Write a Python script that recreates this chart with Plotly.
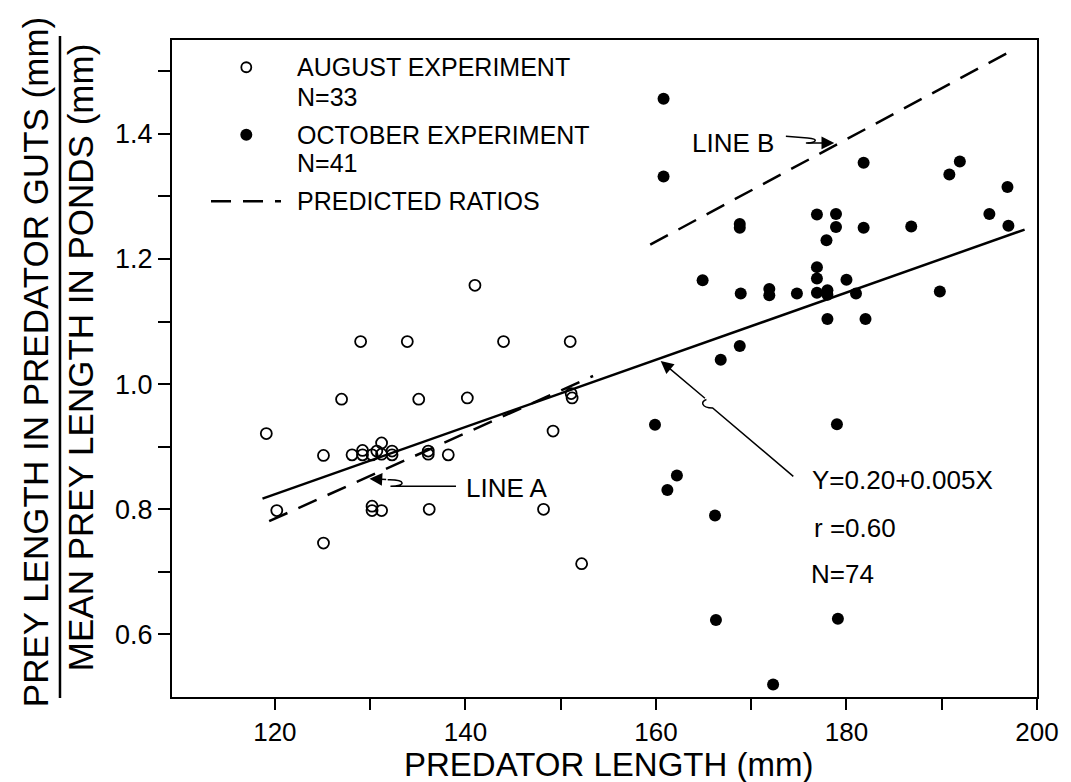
import plotly.graph_objects as go

# ---------------- data ----------------
aug_x = [141.0, 129.0, 133.9, 144.0, 151.0,
         127.0, 135.1, 140.2, 151.1, 151.2,
         119.1, 149.2, 125.1, 128.1, 129.2,
         129.2, 130.2, 131.2, 131.2, 132.3,
         132.3, 136.1, 136.1, 138.2, 120.2,
         130.2, 130.2, 131.2, 136.2, 148.2,
         125.1, 152.2, 130.7]
aug_y = [1.158, 1.068, 1.068, 1.068, 1.068,
         0.976, 0.976, 0.978, 0.985, 0.978,
         0.921, 0.925, 0.886, 0.887, 0.894,
         0.887, 0.887, 0.906, 0.888, 0.893,
         0.887, 0.888, 0.893, 0.887, 0.798,
         0.805, 0.798, 0.798, 0.800, 0.800,
         0.746, 0.713, 0.893]

oct_x = [160.8, 160.8, 181.8, 191.9, 190.8, 196.9, 168.8, 168.8, 176.9, 178.9,
         178.9, 181.8, 186.8, 195.0, 197.0, 177.9, 176.9, 176.9, 180.0, 164.9,
         168.9, 171.9, 171.9, 174.8, 176.9, 178.0, 178.0, 181.0, 189.8, 178.0,
         182.0, 168.8, 166.8, 159.9, 179.0, 162.2, 161.2, 166.2, 166.3, 179.1,
         172.3]
oct_y = [1.456, 1.332, 1.354, 1.356, 1.335, 1.315, 1.250, 1.256, 1.271, 1.272,
         1.251, 1.250, 1.252, 1.272, 1.253, 1.230, 1.187, 1.169, 1.167, 1.166,
         1.145, 1.142, 1.152, 1.145, 1.146, 1.150, 1.143, 1.145, 1.148, 1.104,
         1.104, 1.061, 1.039, 0.935, 0.936, 0.854, 0.831, 0.790, 0.623, 0.625,
         0.520]

reg_x = [118.7, 198.7]
reg_y = [0.817, 1.247]
lineA_x = [119.4, 153.4]
lineA_y = [0.781, 1.013]
lineB_x = [159.4, 197.1]
lineB_y = [1.223, 1.531]

x_tickvals = [120, 130, 140, 150, 160, 170, 180, 190, 200]
x_ticktext = ["120", "", "140", "", "160", "", "180", "", "200"]
y_tickvals = [0.6, 0.7, 0.8, 0.9, 1.0, 1.1, 1.2, 1.3, 1.4, 1.5]
y_ticktext = ["0.6", "", "0.8", "", "1.0", "", "1.2", "", "1.4", ""]

legend_labels = ["AUGUST EXPERIMENT", "N=33", "OCTOBER EXPERIMENT", "N=41", "PREDICTED RATIOS"]

FONT = "Liberation Sans"
INK = "black"
DASH = "20px,12px"

fig = go.Figure()

fig.add_trace(go.Scatter(
    x=aug_x, y=aug_y, mode="markers", name="AUGUST EXPERIMENT N=33",
    marker=dict(symbol="circle-open", size=11, color=INK, line=dict(width=1.8, color=INK)),
))
fig.add_trace(go.Scatter(
    x=oct_x, y=oct_y, mode="markers", name="OCTOBER EXPERIMENT N=41",
    marker=dict(symbol="circle", size=12, color=INK),
))
fig.add_trace(go.Scatter(
    x=lineA_x, y=lineA_y, mode="lines", name="PREDICTED RATIOS (LINE A)",
    line=dict(color=INK, width=2.5, dash=DASH),
))
fig.add_trace(go.Scatter(
    x=lineB_x, y=lineB_y, mode="lines", name="PREDICTED RATIOS (LINE B)",
    line=dict(color=INK, width=2.5, dash=DASH),
))
fig.add_trace(go.Scatter(
    x=reg_x, y=reg_y, mode="lines", name="Y=0.20+0.005X",
    line=dict(color=INK, width=2.5),
))

ann_font = dict(family=FONT, size=26, color=INK)
leg_font = dict(family=FONT, size=25, color=INK)
arrow = dict(showarrow=True, arrowhead=2, arrowsize=1.7, arrowwidth=1.5, arrowcolor=INK,
             xref="x", yref="y", axref="x", ayref="y", text="")

annotations = [
    # LINE A pointer (hooked leader drawn as a path shape below, arrow tip here)
    dict(x=129.93, y=0.8489, ax=131.84, ay=0.8473, **arrow),
    dict(x=139.8, y=0.834, xref="x", yref="y", text="LINE A", showarrow=False,
         xanchor="left", yanchor="middle", font=ann_font),
    # LINE B pointer
    dict(x=178.72, y=1.3854, ax=175.74, ay=1.3854, **arrow),
    dict(x=172.6, y=1.385, xref="x", yref="y", text="LINE B", showarrow=False,
         xanchor="right", yanchor="middle", font=ann_font),
    # regression pointer
    dict(x=160.5, y=1.037, ax=165.3, ay=0.9755, **arrow),
    dict(x=176.2, y=0.847, xref="x", yref="y", text="Y=0.20+0.005X", showarrow=False,
         xanchor="left", yanchor="middle", font=ann_font),
    dict(x=176.4, y=0.770, xref="x", yref="y", text="r =0.60", showarrow=False,
         xanchor="left", yanchor="middle", font=ann_font),
    dict(x=176.1, y=0.696, xref="x", yref="y", text="N=74", showarrow=False,
         xanchor="left", yanchor="middle", font=ann_font),
    # y-axis title as a fraction
    dict(x=-0.157, y=0.51, xref="paper", yref="paper", text="PREY LENGTH IN PREDATOR GUTS (mm)",
         textangle=-90, showarrow=False, xanchor="center", yanchor="middle",
         font=dict(family=FONT, size=35, color=INK)),
    dict(x=-0.105, y=0.516, xref="paper", yref="paper", text="MEAN PREY LENGTH IN PONDS (mm)",
         textangle=-90, showarrow=False, xanchor="center", yanchor="middle",
         font=dict(family=FONT, size=35, color=INK)),
    # x-axis title
    dict(x=0.505, y=-0.1035, xref="paper", yref="paper", text="PREDATOR LENGTH (mm)",
         showarrow=False, xanchor="center", yanchor="middle",
         font=dict(family=FONT, size=33, color=INK)),
]

# hand-made legend (texts)
leg_text_x = 0.1418
leg_text_y = [0.9585, 0.9135, 0.8559, 0.8125, 0.7545]
for lbl, ly in zip(legend_labels, leg_text_y):
    annotations.append(dict(x=leg_text_x, y=ly, xref="paper", yref="paper", text=lbl,
                            showarrow=False, xanchor="left", yanchor="middle", font=leg_font))

leader = dict(type="path", xref="x", yref="y", line=dict(color=INK, width=1.5))
shapes = [
    # fraction bar of the y title
    dict(type="line", xref="paper", yref="paper",
         x0=-0.1295, x1=-0.1295, y0=-0.0015, y1=1.006,
         line=dict(color=INK, width=2.5)),
    # hooked leader lines of the pointers
    dict(path="M 139.01,0.8367 L 132.13,0.8367 C 133.8,0.8367 133.8,0.8480 131.84,0.8473", **leader),
    dict(path="M 173.64,1.3961 L 175.92,1.3934 C 177.2,1.392 176.8,1.3854 175.74,1.3854", **leader),
    dict(path="M 174.42,0.8527 L 165.95,0.9619 C 164.7,0.9619 164.7,0.9730 165.3,0.9755", **leader),
    # legend symbols
    dict(type="circle", xref="paper", yref="paper", xsizemode="pixel", ysizemode="pixel",
         xanchor=0.0859, yanchor=0.9585, x0=-5, x1=5, y0=-5, y1=5,
         line=dict(color=INK, width=1.8), fillcolor="white"),
    dict(type="circle", xref="paper", yref="paper", xsizemode="pixel", ysizemode="pixel",
         xanchor=0.0859, yanchor=0.8559, x0=-6, x1=6, y0=-6, y1=6,
         line=dict(color=INK, width=0), fillcolor=INK),
    dict(type="line", xref="paper", yref="paper", x0=0.0451, x1=0.1260, y0=0.7545, y1=0.7545,
         line=dict(color=INK, width=2.5, dash=DASH)),
]

fig.update_layout(
    width=1071, height=782,
    margin=dict(l=164, r=42, t=32, b=93),
    paper_bgcolor="white", plot_bgcolor="white",
    font=dict(family=FONT, size=26, color=INK),
    showlegend=False,
    annotations=annotations,
    shapes=shapes,
)

fig.update_xaxes(
    range=[109.2, 200], tickmode="array", tickvals=x_tickvals, ticktext=x_ticktext,
    ticks="outside", ticklen=11, tickwidth=1.5, tickcolor=INK,
    showline=True, linewidth=2, linecolor=INK, mirror=True,
    showgrid=False, zeroline=False,
    tickfont=dict(family=FONT, size=26, color=INK),
)
fig.update_yaxes(
    range=[0.5, 1.55], tickmode="array", tickvals=y_tickvals, ticktext=y_ticktext,
    ticks="outside", ticklen=12, tickwidth=1.5, tickcolor=INK,
    showline=True, linewidth=2, linecolor=INK, mirror=True,
    showgrid=False, zeroline=False,
    tickfont=dict(family=FONT, size=27, color=INK),
)

fig.write_html("out.html")
